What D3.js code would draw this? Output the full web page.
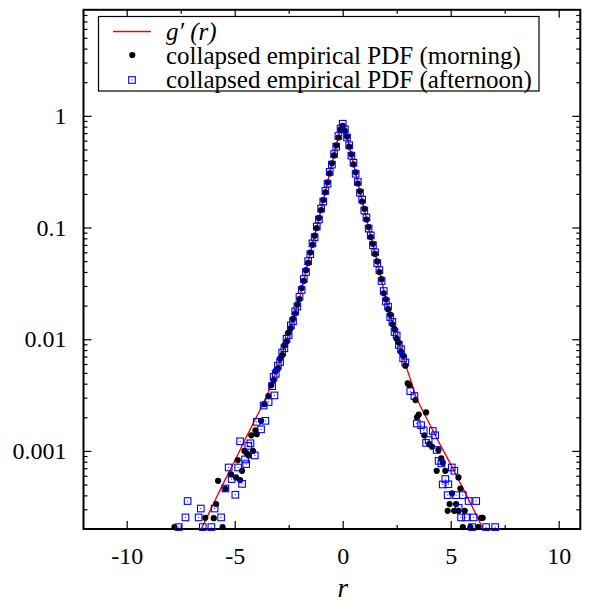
<!DOCTYPE html>
<html>
<head>
<meta charset="utf-8">
<script src="https://cdn.jsdelivr.net/npm/d3@7"></script>
<style>
  body { margin: 0; background: #fff; }
  text { font-family: "Liberation Serif", "Times New Roman", serif; fill: #000; }
</style>
</head>
<body>
<script>
// fitted curve g'(r)
var curveR = [-6.6, -6, -5.5, -5, -4.5, -4, -3.5, -3.2, -3.0, -2.8, -2.6, -2.4, -2.2, -2.0, -1.8, -1.6, -1.4, -1.2, -1.0, -0.8, -0.6, -0.4, -0.2, 0,
              0.2, 0.4, 0.6, 0.8, 1.0, 1.2, 1.4, 1.6, 1.8, 2.0, 2.2, 2.4, 2.6, 2.8, 3.0, 3.2, 3.4, 3.6, 4.0, 4.5, 5.0, 5.5, 6.0, 6.5];
var curveG = [1.91e-4, 3.31e-4, 5.25e-4, 8.13e-4, 1.29e-3, 2.00e-3, 3.16e-3, 4.47e-3, 5.62e-3, 7.41e-3, 9.77e-3, 0.0129, 0.0174, 0.0234, 0.0339, 0.0490, 0.0708, 0.100, 0.145, 0.209, 0.309, 0.447, 0.646, 0.832,
              0.646, 0.447, 0.309, 0.209, 0.145, 0.100, 0.0708, 0.0490, 0.0339, 0.0224, 0.0162, 0.0120, 0.00912, 0.00692, 0.00525, 0.00398, 0.00302, 0.00251, 0.00178, 0.00115, 0.000759, 0.000490, 0.000316, 0.000200];

// central bins, shared by both sessions
var coreR = [-3.2, -3.1, -3.0, -2.9, -2.8, -2.7, -2.6, -2.5, -2.4, -2.3, -2.2, -2.1, -2.0, -1.9, -1.8, -1.7, -1.6, -1.5, -1.4, -1.3, -1.2, -1.1,
             -1.0, -0.9, -0.8, -0.7, -0.6, -0.5, -0.4, -0.3, -0.2, -0.1, 0.0, 0.1, 0.2, 0.3, 0.4, 0.5, 0.6, 0.7, 0.8, 0.9, 1.0, 1.1, 1.2,
             1.3, 1.4, 1.5, 1.6, 1.7, 1.8, 1.9, 2.0, 2.1, 2.2, 2.3, 2.4, 2.5, 2.6, 2.7, 2.8, 2.9];
var morningCore = [0.00430, 0.00520, 0.00545, 0.00670, 0.00720, 0.00880, 0.00950, 0.0115, 0.0126, 0.0152, 0.0170, 0.0205, 0.0229, 0.0287, 0.0333, 0.0415,
                   0.0482, 0.0598, 0.0700, 0.0845, 0.0990, 0.122, 0.143, 0.176, 0.207, 0.254, 0.305, 0.376, 0.442, 0.543, 0.640, 0.752, 0.815,
                   0.735, 0.652, 0.530, 0.452, 0.368, 0.312, 0.248, 0.211, 0.171, 0.147, 0.118, 0.101, 0.0820, 0.0715, 0.0580, 0.0497, 0.0400,
                   0.0345, 0.0258, 0.0228, 0.0186, 0.0166, 0.0136, 0.0123, 0.0101, 0.00935, 0.00770, 0.00710, 0.00580];
var afternoonCore = [0.00460, 0.00490, 0.00580, 0.00625, 0.00760, 0.00830, 0.0101, 0.0109, 0.0133, 0.0145, 0.0178, 0.0196, 0.0240, 0.0276, 0.0346, 0.0400,
                     0.0500, 0.0578, 0.0722, 0.0818, 0.102, 0.118, 0.148, 0.171, 0.213, 0.247, 0.315, 0.366, 0.455, 0.530, 0.660, 0.770, 0.850,
                     0.760, 0.640, 0.545, 0.440, 0.380, 0.303, 0.256, 0.205, 0.178, 0.142, 0.123, 0.0980, 0.0850, 0.0695, 0.0600, 0.0480, 0.0415,
                     0.0332, 0.0270, 0.0218, 0.0196, 0.0158, 0.0143, 0.0116, 0.0108, 0.00890, 0.00815, 0.00675, 0.00620];

// tails (sparse bins)
var morningTailR = [-3.31, -3.44, -3.63, -3.78, -4.04, -3.98, -4.23, -4.55, -4.44, -4.35, -4.15, -4.86, -4.66, -5.17, -5.77, -4.94, -4.75, -5.43, -5.86, -6.36, -5.97, -7.79, -5.56,
                    3.01, 3.09, 3.37, 3.86, 3.52, 3.44, 3.78, 4.01, 4.14, 4.43, 4.56, 4.63, 4.35, 4.75, 5.36, 5.45, 5.06, 4.95, 5.25, 4.86, 5.16, 5.36, 5.65, 6.41, 6.48, 5.56, 5.91, 6.27];
var morningTailP = [0.00388, 0.00310, 0.00262, 0.00186, 0.00153, 0.00141, 0.00138, 0.00100, 0.000950, 0.000912, 0.00100, 0.000828, 0.000664, 0.000616, 0.000540, 0.000579, 0.000548, 0.000458, 0.000334, 0.000252, 0.000250, 0.000208, 0.000208,
                    0.00402, 0.00388, 0.00285, 0.00221, 0.00212, 0.00200, 0.00138, 0.00115, 0.00109, 0.00102, 0.000857, 0.000782, 0.000664, 0.000664, 0.000579, 0.000461, 0.000417, 0.000334, 0.000334, 0.000291, 0.000291, 0.000291, 0.000291, 0.000252, 0.000252, 0.000208, 0.000208, 0.000208];
var afternoonTailR = [-3.27, -3.16, -3.66, -3.43, -3.98, -3.58, -3.78, -4.75, -4.27, -4.37, -4.07, -4.52, -4.47, -5.28, -4.84, -5.14, -4.66, -5.43, -4.97, -7.18, -6.57, -5.93, -7.28, -6.67, -5.63, -7.59, -6.48, -6.08,
                      3.13, 3.32, 3.43, 3.63, 3.75, 4.17, 4.28, 3.86, 3.98, 4.35, 4.44, 4.57, 5.05, 5.17, 4.75, 4.63, 4.89, 4.86, 5.25, 5.56, 5.83, 6.18, 5.37, 5.48, 5.71, 6.06, 5.99, 6.64, 7.06];
var afternoonTailP = [0.00380, 0.00314, 0.00255, 0.00274, 0.00182, 0.00186, 0.00156, 0.00122, 0.00117, 0.00111, 0.000912, 0.000839, 0.000762, 0.000711, 0.000711, 0.000560, 0.000507, 0.000461, 0.000405, 0.000356, 0.000305, 0.000305, 0.000254, 0.000254, 0.000254, 0.000208, 0.000208, 0.000208,
                      0.00343, 0.00310, 0.00176, 0.00170, 0.00153, 0.00151, 0.00138, 0.00118, 0.00125, 0.00102, 0.000815, 0.000773, 0.000711, 0.000664, 0.000560, 0.000501, 0.000503, 0.000402, 0.000402, 0.000402, 0.000356, 0.000356, 0.000309, 0.000254, 0.000254, 0.000254, 0.000208, 0.000208, 0.000208];

var xTicks = [-10, -5, 0, 5, 10];
var xMinorTicks = [-7.5, -2.5, 2.5, 7.5];
var yTicks = [0.001, 0.01, 0.1, 1];
var legendLabels = ["collapsed empirical PDF (morning)", "collapsed empirical PDF (afternoon)"];

var svgWidth = 595, svgHeight = 603;
var plotLeft = 83.5, plotRight = 580.3, plotTop = 9.8, plotBottom = 529;
var serif = '"Liberation Serif", "Times New Roman", serif';

var svg = d3.select('body').append('svg')
    .attr('width', svgWidth)
    .attr('height', svgHeight);

var x = d3.scaleLinear().domain([-12, 11]).range([plotLeft, plotRight]);
var y = d3.scaleLog().domain([2e-4, 8.9]).range([plotBottom, plotTop]);

// minor ticks of the log axis: 2..9 times each decade
var yMinorTicks = [];
[1e-4, 1e-3, 1e-2, 1e-1, 1].forEach(function(d) {
    for (var m = 2; m <= 9; m++) {
        var v = m * d;
        if (v > 2e-4 && v < 8.9) yMinorTicks.push(v);
    }
});

function styleAxis(g) {
    g.attr('font-family', serif).attr('font-size', 24);
    g.select('.domain').remove();
    g.selectAll('line').attr('stroke', '#000').attr('stroke-width', 1.2);
    g.selectAll('text').attr('fill', '#000');
}

// axes with inward ticks, mirrored on top and right
svg.append('g').attr('transform', 'translate(0,' + plotBottom + ')')
    .call(d3.axisBottom(x).tickValues(xTicks).tickSize(-8).tickPadding(18).tickFormat(function(d) { return String(d); }))
    .call(styleAxis);
svg.append('g').attr('transform', 'translate(0,' + plotBottom + ')')
    .call(d3.axisBottom(x).tickValues(xMinorTicks).tickSize(-4).tickFormat(''))
    .call(styleAxis);
svg.append('g').attr('transform', 'translate(0,' + plotTop + ')')
    .call(d3.axisTop(x).tickValues(xTicks).tickSize(-8).tickFormat(''))
    .call(styleAxis);
svg.append('g').attr('transform', 'translate(0,' + plotTop + ')')
    .call(d3.axisTop(x).tickValues(xMinorTicks).tickSize(-4).tickFormat(''))
    .call(styleAxis);

svg.append('g').attr('transform', 'translate(' + plotLeft + ',0)')
    .call(d3.axisLeft(y).tickValues(yTicks).tickSize(-8).tickPadding(17).tickFormat(function(d) { return String(d); }))
    .call(styleAxis);
svg.append('g').attr('transform', 'translate(' + plotLeft + ',0)')
    .call(d3.axisLeft(y).tickValues(yMinorTicks).tickSize(-4).tickFormat(''))
    .call(styleAxis);
svg.append('g').attr('transform', 'translate(' + plotRight + ',0)')
    .call(d3.axisRight(y).tickValues(yTicks).tickSize(-8).tickFormat(''))
    .call(styleAxis);
svg.append('g').attr('transform', 'translate(' + plotRight + ',0)')
    .call(d3.axisRight(y).tickValues(yMinorTicks).tickSize(-4).tickFormat(''))
    .call(styleAxis);

// frame
svg.append('rect')
    .attr('x', plotLeft).attr('y', plotTop)
    .attr('width', plotRight - plotLeft).attr('height', plotBottom - plotTop)
    .attr('fill', 'none').attr('stroke', '#000').attr('stroke-width', 2);

svg.append('clipPath').attr('id', 'plot-clip')
    .append('rect')
    .attr('x', plotLeft).attr('y', plotTop)
    .attr('width', plotRight - plotLeft).attr('height', plotBottom - plotTop);

// curve
var line = d3.line()
    .x(function(d) { return x(d[0]); })
    .y(function(d) { return y(d[1]); })
    .curve(d3.curveMonotoneX);

svg.append('path')
    .datum(curveR.map(function(r, i) { return [r, curveG[i]]; }))
    .attr('clip-path', 'url(#plot-clip)')
    .attr('d', line)
    .attr('fill', 'none')
    .attr('stroke', '#ff0000')
    .attr('stroke-width', 1.4);

var morning = coreR.map(function(r, i) { return [r, morningCore[i]]; })
    .concat(morningTailR.map(function(r, i) { return [r, morningTailP[i]]; }));
var afternoon = coreR.map(function(r, i) { return [r, afternoonCore[i]]; })
    .concat(afternoonTailR.map(function(r, i) { return [r, afternoonTailP[i]]; }));

function drawSquare(sel) {
    sel.append('rect')
        .attr('x', -3.3).attr('y', -3.3).attr('width', 6.6).attr('height', 6.6)
        .attr('fill', 'none').attr('stroke', '#0000ff').attr('stroke-width', 1.1);
    sel.append('rect')
        .attr('x', -0.5).attr('y', -0.5).attr('width', 1).attr('height', 1)
        .attr('fill', '#0000ff');
}

svg.append('g').selectAll('circle')
    .data(morning)
    .enter().append('circle')
    .attr('cx', function(d) { return x(d[0]); })
    .attr('cy', function(d) { return y(d[1]); })
    .attr('r', 3.1)
    .attr('fill', '#000');

svg.append('g').selectAll('g')
    .data(afternoon)
    .enter().append('g')
    .attr('transform', function(d) { return 'translate(' + x(d[0]) + ',' + y(d[1]) + ')'; })
    .call(drawSquare);

// axis title
svg.append('text')
    .attr('x', x(0)).attr('y', 597)
    .attr('text-anchor', 'middle')
    .attr('font-size', 27)
    .attr('font-style', 'italic')
    .text('r');

// legend
var legend = svg.append('g');
legend.append('rect')
    .attr('x', 98.5).attr('y', 16.5).attr('width', 440.5).attr('height', 74.5)
    .attr('fill', '#fff').attr('stroke', '#000').attr('stroke-width', 1.2);
legend.append('line')
    .attr('x1', 113).attr('x2', 151).attr('y1', 31.5).attr('y2', 31.5)
    .attr('stroke', '#ff0000').attr('stroke-width', 1.4);
legend.append('text')
    .attr('x', 166).attr('y', 40)
    .attr('font-size', 25)
    .attr('font-style', 'italic')
    .text("g\u2032 (r)");
legend.append('circle')
    .attr('cx', 132.3).attr('cy', 55).attr('r', 3.1).attr('fill', '#000');
legend.append('g')
    .attr('transform', 'translate(132,80)')
    .call(drawSquare);
legend.selectAll('text.lab')
    .data(legendLabels)
    .enter().append('text')
    .attr('class', 'lab')
    .attr('x', 166)
    .attr('y', function(d, i) { return 63.5 + i * 24; })
    .attr('font-size', 25)
    .text(function(d) { return d; });
</script>
</body>
</html>
